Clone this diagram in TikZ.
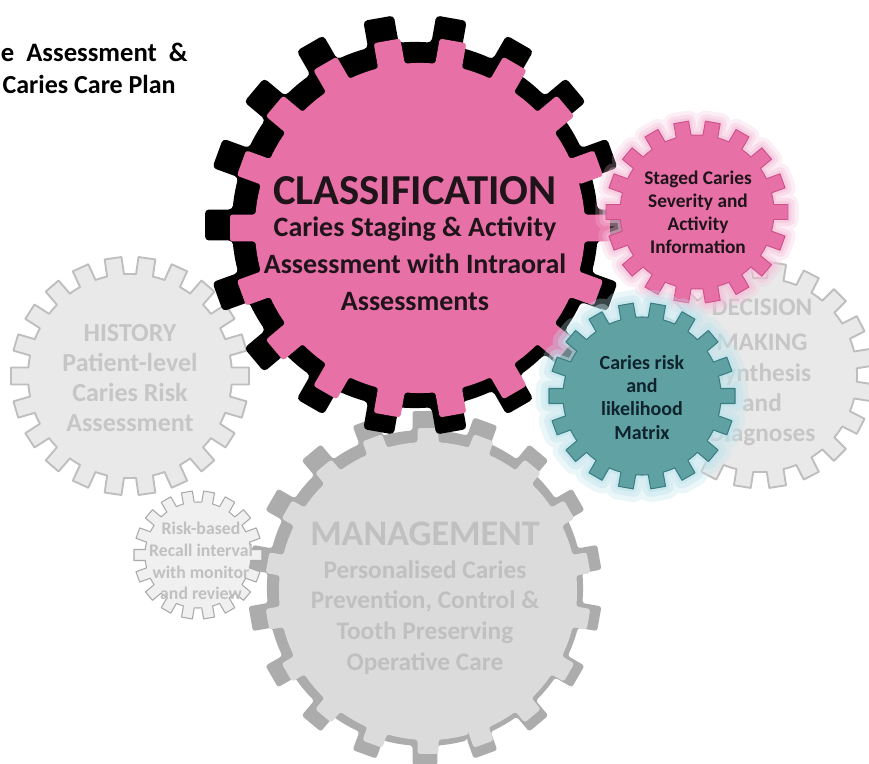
\documentclass[tikz,border=0pt]{standalone}
\usepackage{fontspec}
\setmainfont{Carlito}
\definecolor{cpink}{RGB}{231,112,166}
\definecolor{cpinkline}{RGB}{205,80,140}
\definecolor{cpinkglow}{RGB}{246,190,216}
\definecolor{cteal}{RGB}{96,162,164}
\definecolor{ctealline}{RGB}{60,125,130}
\definecolor{ctealglow}{RGB}{190,228,236}
\definecolor{gfill}{RGB}{233,233,233}
\definecolor{gline}{RGB}{190,190,190}
\definecolor{gtext}{RGB}{198,198,198}
\definecolor{mdark}{RGB}{172,172,172}
\definecolor{mlight}{RGB}{219,219,219}
\definecolor{mtext}{RGB}{192,192,192}
\definecolor{rfill}{RGB}{240,240,240}
\definecolor{rline}{RGB}{170,170,170}
\definecolor{darktext}{RGB}{30,20,26}
\definecolor{tealtext}{RGB}{15,35,45}
\newcommand{\gear}[8]{%
 \pgfmathsetmacro\gS{360/#4}%
 \pgfmathsetmacro\gA{asin(#7/2/#5)}%
 \pgfmathsetmacro\gB{atan(#7/2/#6)}%
 \pgfmathsetmacro\gRR{#6/cos(\gB)}%
 \pgfmathtruncatemacro\gN{#4-1}%
 \path[shift={(#2,#3)},#1] ({#8-\gS+\gA}:#5)
  \foreach \k in {0,...,\gN}{
    arc[start angle={#8+(\k-1)*\gS+\gA}, end angle={#8+\k*\gS-\gA}, radius=#5]
    -- ({#8+\k*\gS-\gB}:\gRR) -- ({#8+\k*\gS+\gB}:\gRR) -- ({#8+\k*\gS+\gA}:#5)
  } -- cycle;
}
\tikzset{
  txt/.style={anchor=base, inner sep=0pt, font=\bfseries},
  fsz/.style={font=\bfseries\fontsize{#1}{#1}\selectfont},
  graygear/.style={fill=gfill, draw=gline, line width=1.4pt, line join=round},
  glowpass/.style={draw=#1, line join=round},
}
\begin{document}
\begin{tikzpicture}[x=0.75pt,y=-0.75pt]
\useasboundingbox (0,0) rectangle (869,764);
\clip (0,0) rectangle (869,764);
\fill[white] (0,0) rectangle (869,764);

% title text
\node[txt, fsz=20, anchor=base east] (t1) at (188,61) {e\ \ Assessment\ \ \&};
\node[txt, fsz=19.5, anchor=base east] (t2) at (176,93) {Caries Care Plan};

% DECISION MAKING
\gear{graygear}{760}{375}{20}{97}{113}{17}{9}
\begin{scope}[every node/.style={txt, fsz=19, text=gtext}]
\node (d1) at (762,315) {DECISION};
\node (d2) at (762,350) {MAKING};
\node (d3) at (762,381) {Synthesis};
\node (d4) at (762,411) {and};
\node (d5) at (762,441) {Diagnoses};
\end{scope}

% HISTORY
\gear{graygear}{130}{376}{22}{102}{119}{17}{81.818}
\begin{scope}[every node/.style={txt, fsz=19.5, text=gtext}]
\node (h1) at (130,341) {HISTORY};
\node (h2) at (130,371) {Patient-level};
\node (h3) at (130,401) {Caries Risk};
\node (h4) at (130,431) {Assessment};
\end{scope}

% MANAGEMENT
\gear{fill=mdark, rounded corners=2}{425}{588}{18}{158}{177}{25}{90}
\gear{fill=mlight, rounded corners=2}{428}{591}{18}{149}{163}{21}{90}
\node[txt, fsz=27, text=mtext] (m1) at (425,545) {MANAGEMENT};
\begin{scope}[every node/.style={txt, fsz=19, text=mtext}]
\node (m2) at (425,578) {Personalised Caries};
\node (m3) at (425,608) {Prevention, Control \&};
\node (m4) at (425,639) {Tooth Preserving};
\node (m5) at (425,670) {Operative Care};
\end{scope}

% Recall
\gear{fill=rfill, draw=rline, line width=0.8pt, line join=round}{198}{555}{18}{53}{64}{11}{0}
\begin{scope}[every node/.style={txt, fsz=13.3, text=mtext}]
\node (r1) at (201,534) {Risk-based};
\node (r2) at (201,556) {Recall interval};
\node (r3) at (201,578) {with monitor};
\node (r4) at (201,599) {and review};
\end{scope}

% CLASSIFICATION
\gear{fill=black, rounded corners=3}{415}{225}{18}{183}{210}{31}{0}
\gear{fill=cpink, rounded corners=2}{420}{228}{18}{165}{190}{27}{0}
\node[txt, fsz=32, text=darktext] (c1) at (415,204) {CLASSIFICATION};
\begin{scope}[every node/.style={txt, fsz=21, text=darktext}]
\node (c2) at (415,236) {Caries Staging \& Activity};
\node (c3) at (415,273) {Assessment with Intraoral};
\node (c4) at (415,310) {Assessments};
\end{scope}

% Staged caries
\gear{glowpass=cpinkglow, line width=16pt, opacity=.25}{697}{212}{18}{77}{91}{15}{0}
\gear{glowpass=cpinkglow, line width=10pt, opacity=.35}{697}{212}{18}{77}{91}{15}{0}
\gear{glowpass=cpinkglow, line width=5pt, opacity=.5}{697}{212}{18}{77}{91}{15}{0}
\gear{fill=cpink, draw=cpinkline, line width=0.7pt, line join=round}{697}{212}{18}{77}{91}{15}{0}
\begin{scope}[every node/.style={txt, fsz=14.5, text=darktext}]
\node (s1) at (698,184) {Staged Caries};
\node (s2) at (698,207) {Severity and};
\node (s3) at (698,230) {Activity};
\node (s4) at (698,253) {Information};
\end{scope}

% Caries risk
\gear{glowpass=ctealglow, line width=20pt, opacity=.3}{642}{396}{18}{79}{93}{15}{0}
\gear{glowpass=ctealglow, line width=12pt, opacity=.4}{642}{396}{18}{79}{93}{15}{0}
\gear{glowpass=ctealglow, line width=5pt, opacity=.55}{642}{396}{18}{79}{93}{15}{0}
\gear{fill=cteal, draw=ctealline, line width=0.8pt, line join=round}{642}{396}{18}{79}{93}{15}{0}
\begin{scope}[every node/.style={txt, fsz=15, text=tealtext}]
\node (k1) at (642,369) {Caries risk};
\node (k2) at (642,392) {and};
\node (k3) at (642,415) {likelihood};
\node (k4) at (642,439) {Matrix};
\end{scope}
\end{tikzpicture}
\end{document}
